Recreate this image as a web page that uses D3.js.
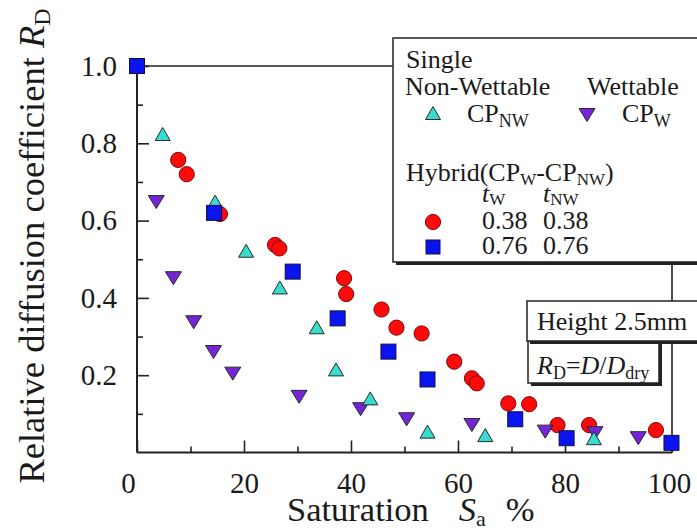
<!DOCTYPE html>
<html>
<head>
<meta charset="utf-8">
<script src="https://cdn.jsdelivr.net/npm/d3@7/dist/d3.min.js"></script>
<style>
  html, body { margin: 0; padding: 0; background: #fff; }
  svg { display: block; }
  text { font-family: "Liberation Serif", "Times New Roman", serif; fill: #1a1a1a; }
</style>
</head>
<body>
<svg id="chart" width="697" height="531"></svg>
<script>
// Axis tick values
const xMajorTicks = [0, 20, 40, 60, 80, 100];
const xMinorTicks = [10, 30, 50, 70, 90];
const yMajorTicks = [0.2, 0.4, 0.6, 0.8, 1.0];
const yMinorTicks = [0.1, 0.3, 0.5, 0.7, 0.9];

// Single CP_NW (non-wettable)
const nwSa = [4.8, 14.6, 20.4, 26.7, 33.6, 37.2, 43.6, 54.3, 65.1, 85.4];
const nwRd = [0.824, 0.649, 0.522, 0.427, 0.324, 0.215, 0.140, 0.054, 0.045, 0.037];

// Single CP_W (wettable)
const wSa = [3.6, 6.8, 10.6, 14.3, 17.9, 30.3, 41.8, 50.4, 62.6, 76.3, 85.6, 93.7];
const wRd = [0.648, 0.451, 0.337, 0.260, 0.204, 0.144, 0.112, 0.086, 0.071, 0.054, 0.050, 0.037];

// Hybrid tW = 0.38, tNW = 0.38
const h38Sa = [7.7, 9.3, 15.5, 25.8, 26.6, 38.7, 39.1, 45.7, 48.5, 53.2, 59.3, 62.6, 63.5, 69.4, 73.3, 78.6, 84.5, 97.0];
const h38Rd = [0.757, 0.720, 0.617, 0.537, 0.528, 0.451, 0.410, 0.370, 0.323, 0.308, 0.235, 0.192, 0.179, 0.127, 0.125, 0.071, 0.071, 0.058];

// Hybrid tW = 0.76, tNW = 0.76
const h76Sa = [0, 14.4, 29.1, 37.5, 47.0, 54.3, 70.7, 80.3, 99.9];
const h76Rd = [1.0, 0.620, 0.468, 0.347, 0.261, 0.189, 0.086, 0.037, 0.025];

const colors = {
  nw: "#38dccf", w: "#7426d6", h38: "#ff0a0a", h76: "#0a14f0"
};

const svg = d3.select("#chart");
const x = d3.scaleLinear().domain([0, 100]).range([137, 672]);
const y = d3.scaleLinear().domain([0, 1]).range([452.5, 66]);

const zip = (a, b) => a.map((v, i) => [v, b[i]]);

// Triangle path with its bounding box centred on (cx, cy)
function tri(cx, cy, w, h, up) {
  const t = cy - h / 2, b = cy + h / 2;
  return up
    ? `M${cx},${t}L${cx + w / 2},${b}L${cx - w / 2},${b}Z`
    : `M${cx},${b}L${cx + w / 2},${t}L${cx - w / 2},${t}Z`;
}

// Frame: top and right lines
svg.append("line").attr("x1", x(0)).attr("x2", x(100)).attr("y1", y(1)).attr("y2", y(1))
  .attr("stroke", "#222").attr("stroke-width", 1.6);
svg.append("line").attr("x1", x(100)).attr("x2", x(100)).attr("y1", y(1)).attr("y2", y(0))
  .attr("stroke", "#222").attr("stroke-width", 1.6);

// Bottom axis
const gx = svg.append("g").attr("transform", `translate(0,${y(0)})`);
gx.call(d3.axisBottom(x).tickValues(xMajorTicks).tickSize(-12).tickPadding(20).tickFormat(d3.format("d")));
gx.append("g").call(d3.axisBottom(x).tickValues(xMinorTicks).tickSize(-6).tickFormat(""));
gx.selectAll(".domain").remove();
gx.selectAll(".tick line").attr("stroke", "#222").attr("stroke-width", 1.6);
gx.selectAll(".tick text").attr("font-size", 29).attr("fill", "#1a1a1a")
  .attr("font-family", "Liberation Serif")
  .attr("dx", d => d === 0 ? -9 : (d === 100 ? -3 : 0));
svg.append("line").attr("x1", x(0)).attr("x2", x(100)).attr("y1", y(0)).attr("y2", y(0))
  .attr("stroke", "#222").attr("stroke-width", 2);

// Left axis
const gy = svg.append("g").attr("transform", `translate(${x(0)},0)`);
gy.call(d3.axisLeft(y).tickValues(yMajorTicks).tickSize(-12).tickPadding(20).tickFormat(d3.format(".1f")));
gy.append("g").call(d3.axisLeft(y).tickValues(yMinorTicks).tickSize(-6).tickFormat(""));
gy.selectAll(".domain").remove();
gy.selectAll(".tick line").attr("stroke", "#222").attr("stroke-width", 1.6);
gy.selectAll(".tick text").attr("font-size", 29).attr("fill", "#1a1a1a")
  .attr("font-family", "Liberation Serif");
svg.append("line").attr("x1", x(0)).attr("x2", x(0)).attr("y1", y(1)).attr("y2", y(0))
  .attr("stroke", "#222").attr("stroke-width", 2);

// Axis titles
const yt = svg.append("text").attr("transform", "translate(44,246) rotate(-90)")
  .attr("text-anchor", "middle").attr("font-size", 36.5);
yt.append("tspan").text("Relative diffusion coefficient ");
yt.append("tspan").attr("font-style", "italic").text("R");
yt.append("tspan").attr("font-size", 24).attr("dy", 6).text("D");

const xt = svg.append("text").attr("x", 287).attr("y", 521).attr("font-size", 34.5);
xt.append("tspan").text("Saturation");
xt.append("tspan").attr("dx", 30).attr("font-style", "italic").text("S");
xt.append("tspan").attr("font-size", 22).attr("dy", 5).text("a");
xt.append("tspan").attr("dx", 20).attr("dy", -5).text("%");

// Data marks
const stroke = "#2a2a2a";
svg.append("g").selectAll("circle").data(zip(h38Sa, h38Rd)).join("circle")
  .attr("cx", d => x(d[0])).attr("cy", d => y(d[1])).attr("r", 7.6)
  .attr("fill", colors.h38).attr("stroke", "#7a0a0a").attr("stroke-width", 1);
svg.append("g").selectAll("path").data(zip(wSa, wRd)).join("path")
  .attr("d", d => tri(x(d[0]), y(d[1]), 16, 13, false))
  .attr("fill", colors.w).attr("stroke", stroke).attr("stroke-width", 1);
svg.append("g").selectAll("path").data(zip(nwSa, nwRd)).join("path")
  .attr("d", d => tri(x(d[0]), y(d[1]), 15, 13, true))
  .attr("fill", colors.nw).attr("stroke", stroke).attr("stroke-width", 1);
svg.append("g").selectAll("rect").data(zip(h76Sa, h76Rd)).join("rect")
  .attr("x", d => x(d[0]) - 7.5).attr("y", d => y(d[1]) - 7.5)
  .attr("width", 15).attr("height", 15)
  .attr("fill", colors.h76).attr("stroke", "#101040").attr("stroke-width", 1);

// Boxed panel with drop shadow
function panel(x0, y0, w, h) {
  svg.append("rect").attr("x", x0 + 3).attr("y", y0 + 3).attr("width", w).attr("height", h)
    .attr("fill", "#222");
  svg.append("rect").attr("x", x0).attr("y", y0).attr("width", w).attr("height", h)
    .attr("fill", "#fff").attr("stroke", "#222").attr("stroke-width", 1.5);
}

// Legend
panel(393, 38, 330, 224);
const lg = svg.append("g").attr("font-size", 26);
lg.append("text").attr("x", 406).attr("y", 68).text("Single");
lg.append("text").attr("x", 405).attr("y", 95).text("Non-Wettable");
lg.append("text").attr("x", 587).attr("y", 95).text("Wettable");
lg.append("path").attr("d", tri(433, 113, 15, 13, true)).attr("fill", colors.nw)
  .attr("stroke", stroke).attr("stroke-width", 1);
lg.append("path").attr("d", tri(587, 115, 16, 13, false)).attr("fill", colors.w)
  .attr("stroke", stroke).attr("stroke-width", 1);

function subText(parent, x0, y0, parts, subSize = 18, shift = 5) {
  const t = parent.append("text").attr("x", x0).attr("y", y0);
  parts.forEach(p => {
    const s = t.append("tspan").text(p.t);
    if (p.sub) s.attr("font-size", subSize).attr("dy", shift);
    if (p.back) s.attr("dy", -shift);
    if (p.it) s.attr("font-style", "italic");
  });
  return t;
}
subText(lg, 467, 122, [{ t: "CP" }, { t: "NW", sub: true }]);
subText(lg, 622, 122, [{ t: "CP" }, { t: "W", sub: true }]);
subText(lg, 406, 181, [{ t: "Hybrid(CP" }, { t: "W", sub: true }, { t: "-CP", back: true }, { t: "NW", sub: true }, { t: ")", back: true }], 17, 4);
subText(lg, 482, 202, [{ t: "t", it: true }, { t: "W", sub: true }], 17, 3);
subText(lg, 543, 202, [{ t: "t", it: true }, { t: "NW", sub: true }], 17, 3);
lg.append("text").attr("x", 482).attr("y", 229).text("0.38");
lg.append("text").attr("x", 543).attr("y", 229).text("0.38");
lg.append("text").attr("x", 482).attr("y", 254).text("0.76");
lg.append("text").attr("x", 543).attr("y", 254).text("0.76");
lg.append("circle").attr("cx", 433).attr("cy", 222).attr("r", 7.6)
  .attr("fill", colors.h38).attr("stroke", "#7a0a0a").attr("stroke-width", 1);
lg.append("rect").attr("x", 426).attr("y", 240).attr("width", 14).attr("height", 14)
  .attr("fill", colors.h76).attr("stroke", "#101040").attr("stroke-width", 1);

// Specimen notes
panel(528, 341, 131, 42);
panel(527, 301, 190, 40);
const nt = svg.append("g").attr("font-size", 26);
nt.append("text").attr("x", 537).attr("y", 330).text("Height 2.5mm");
subText(nt, 537, 374, [{ t: "R", it: true }, { t: "D", sub: true }, { t: "=", back: true }, { t: "D", it: true }, { t: "/" }, { t: "D", it: true }, { t: "dry", sub: true }]);
</script>
</body>
</html>
